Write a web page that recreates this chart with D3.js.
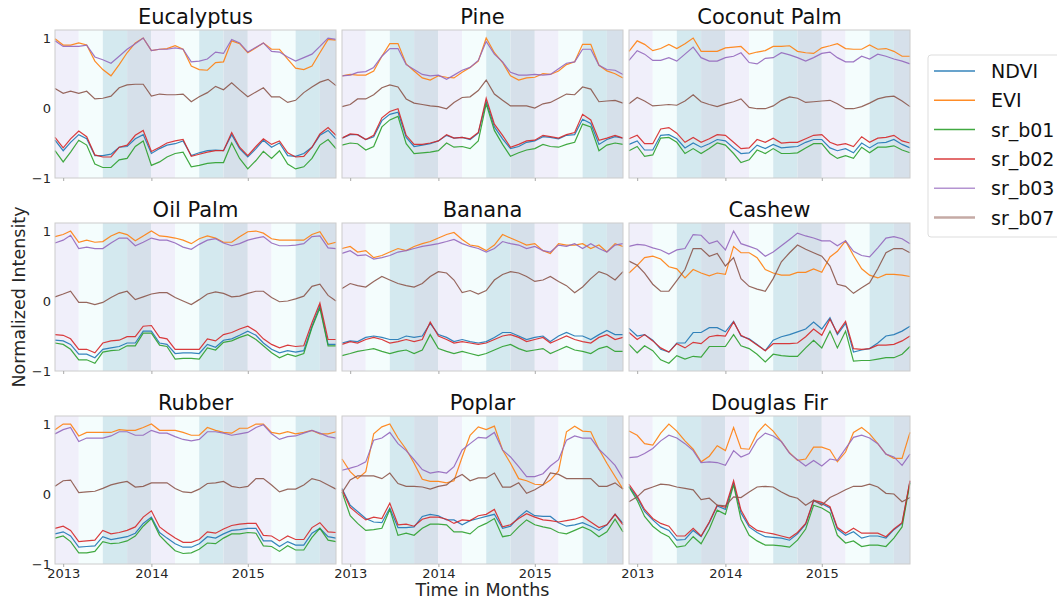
<!DOCTYPE html>
<html>
<head>
<meta charset="utf-8">
<script src="https://cdn.jsdelivr.net/npm/d3@7"></script>
<style>
    body { margin: 0; background: #fff; }
    svg { font-family: "DejaVu Sans", sans-serif; display: block; }
</style>
</head>
<body>
<div id="container"></div>
<script>
// series order in every species array: NDVI, EVI, sr_b01, sr_b02, sr_b03, sr_b07
const seriesNames = ["NDVI", "EVI", "sr_b01", "sr_b02", "sr_b03", "sr_b07"];
const speciesNames = ["Eucalyptus", "Pine", "Coconut Palm", "Oil Palm", "Banana", "Cashew", "Rubber", "Poplar", "Douglas Fir"];
const yTicks = [-1, 0, 1];
const xTickDates = ["2013-02-01", "2014-01-01", "2015-01-01"];
const firstMonth = "2013-01-01";
const lastMonth = "2015-12-01";

const eucalyptus = [
    [-0.46,-0.61,-0.49,-0.38,-0.44,-0.68,-0.68,-0.66,-0.56,-0.55,-0.44,-0.38,-0.65,-0.58,-0.53,-0.51,-0.47,-0.68,-0.64,-0.61,-0.60,-0.61,-0.38,-0.58,-0.70,-0.58,-0.46,-0.56,-0.50,-0.68,-0.69,-0.65,-0.56,-0.39,-0.32,-0.44],
    [0.99,0.90,0.90,0.93,0.90,0.67,0.55,0.46,0.62,0.79,0.93,1.00,0.82,0.84,0.85,0.89,0.84,0.60,0.55,0.54,0.65,0.66,0.96,0.92,0.79,0.86,0.93,0.84,0.84,0.70,0.57,0.55,0.60,0.79,0.98,0.97],
    [-0.61,-0.77,-0.63,-0.46,-0.53,-0.80,-0.85,-0.85,-0.74,-0.72,-0.55,-0.47,-0.82,-0.77,-0.70,-0.65,-0.63,-0.84,-0.82,-0.79,-0.78,-0.78,-0.50,-0.72,-0.87,-0.75,-0.62,-0.72,-0.61,-0.80,-0.87,-0.84,-0.72,-0.53,-0.45,-0.58],
    [-0.42,-0.57,-0.44,-0.33,-0.41,-0.67,-0.70,-0.70,-0.56,-0.53,-0.39,-0.32,-0.62,-0.56,-0.50,-0.47,-0.45,-0.69,-0.66,-0.63,-0.61,-0.61,-0.35,-0.56,-0.68,-0.55,-0.44,-0.52,-0.47,-0.64,-0.70,-0.69,-0.56,-0.37,-0.28,-0.39],
    [0.96,0.88,0.88,0.88,0.90,0.73,0.69,0.64,0.74,0.84,0.92,1.00,0.82,0.84,0.84,0.86,0.84,0.66,0.67,0.70,0.80,0.78,0.98,0.93,0.80,0.87,0.93,0.81,0.80,0.73,0.67,0.72,0.77,0.88,1.00,0.98],
    [0.28,0.21,0.24,0.21,0.24,0.13,0.14,0.17,0.29,0.33,0.34,0.34,0.17,0.20,0.19,0.19,0.20,0.09,0.16,0.22,0.31,0.26,0.36,0.26,0.16,0.23,0.29,0.16,0.16,0.08,0.11,0.22,0.30,0.37,0.41,0.32]
];
const pine = [
    [-0.43,-0.38,-0.38,-0.45,-0.41,-0.18,-0.09,-0.06,-0.42,-0.55,-0.53,-0.51,-0.47,-0.39,-0.43,-0.42,-0.45,-0.36,0.09,-0.27,-0.44,-0.58,-0.55,-0.49,-0.47,-0.41,-0.42,-0.44,-0.39,-0.38,-0.16,-0.22,-0.52,-0.45,-0.41,-0.43],
    [0.46,0.48,0.47,0.47,0.53,0.74,0.92,0.92,0.63,0.53,0.43,0.40,0.46,0.44,0.43,0.51,0.58,0.67,1.00,0.79,0.65,0.46,0.40,0.43,0.44,0.49,0.48,0.53,0.62,0.66,0.91,0.91,0.61,0.53,0.49,0.43],
    [-0.53,-0.50,-0.51,-0.60,-0.55,-0.27,-0.17,-0.12,-0.51,-0.65,-0.64,-0.63,-0.61,-0.50,-0.56,-0.55,-0.58,-0.47,0.06,-0.32,-0.52,-0.69,-0.64,-0.60,-0.58,-0.52,-0.55,-0.56,-0.52,-0.49,-0.23,-0.27,-0.61,-0.53,-0.50,-0.52],
    [-0.43,-0.37,-0.38,-0.45,-0.39,-0.14,-0.05,-0.01,-0.39,-0.52,-0.52,-0.50,-0.47,-0.38,-0.43,-0.42,-0.44,-0.35,0.14,-0.23,-0.39,-0.56,-0.52,-0.47,-0.46,-0.39,-0.41,-0.43,-0.38,-0.35,-0.09,-0.17,-0.46,-0.43,-0.39,-0.43],
    [0.46,0.47,0.51,0.52,0.58,0.74,0.85,0.85,0.62,0.55,0.48,0.46,0.47,0.41,0.47,0.54,0.58,0.68,0.95,0.77,0.66,0.51,0.47,0.47,0.48,0.47,0.48,0.56,0.64,0.66,0.84,0.84,0.61,0.55,0.54,0.48],
    [0.02,0.05,0.13,0.13,0.19,0.29,0.33,0.30,0.13,0.07,0.05,0.03,0.02,-0.01,0.08,0.15,0.16,0.25,0.40,0.20,0.11,0.03,0.03,0.03,0.00,0.06,0.08,0.14,0.20,0.19,0.30,0.27,0.09,0.10,0.11,0.07]
];
const coconutPalm = [
    [-0.52,-0.47,-0.60,-0.60,-0.39,-0.38,-0.44,-0.57,-0.50,-0.56,-0.51,-0.45,-0.47,-0.57,-0.65,-0.64,-0.53,-0.58,-0.52,-0.57,-0.56,-0.55,-0.49,-0.45,-0.45,-0.57,-0.61,-0.58,-0.64,-0.50,-0.57,-0.50,-0.49,-0.45,-0.52,-0.57],
    [0.81,0.96,0.91,0.82,0.85,0.91,0.85,0.92,1.00,0.81,0.81,0.81,0.86,0.87,0.88,0.77,0.80,0.82,0.88,0.88,0.89,0.81,0.79,0.78,0.86,0.89,0.92,0.85,0.84,0.84,0.90,0.84,0.85,0.81,0.74,0.74],
    [-0.61,-0.55,-0.69,-0.67,-0.43,-0.42,-0.49,-0.65,-0.58,-0.65,-0.58,-0.50,-0.53,-0.65,-0.78,-0.74,-0.60,-0.65,-0.58,-0.65,-0.65,-0.64,-0.57,-0.51,-0.51,-0.65,-0.72,-0.68,-0.72,-0.56,-0.64,-0.56,-0.56,-0.54,-0.60,-0.64],
    [-0.44,-0.39,-0.51,-0.51,-0.30,-0.28,-0.36,-0.49,-0.42,-0.49,-0.44,-0.38,-0.39,-0.49,-0.58,-0.57,-0.45,-0.49,-0.43,-0.50,-0.49,-0.49,-0.44,-0.39,-0.38,-0.49,-0.53,-0.51,-0.55,-0.41,-0.49,-0.43,-0.42,-0.39,-0.47,-0.50],
    [0.68,0.82,0.77,0.68,0.68,0.72,0.67,0.77,0.87,0.72,0.67,0.67,0.72,0.74,0.79,0.65,0.63,0.71,0.72,0.79,0.76,0.72,0.67,0.72,0.78,0.80,0.72,0.66,0.66,0.74,0.70,0.77,0.74,0.70,0.67,0.63],
    [0.06,0.15,0.10,0.03,0.04,0.05,0.04,0.10,0.19,0.09,0.05,0.02,0.06,0.09,0.13,0.01,-0.01,-0.01,0.03,0.11,0.16,0.14,0.08,0.09,0.10,0.11,0.06,-0.01,-0.01,0.02,0.07,0.13,0.16,0.17,0.10,0.02]
];
const oilPalm = [
    [-0.56,-0.57,-0.62,-0.76,-0.76,-0.81,-0.69,-0.67,-0.65,-0.60,-0.60,-0.43,-0.43,-0.60,-0.62,-0.75,-0.74,-0.74,-0.75,-0.62,-0.66,-0.56,-0.54,-0.49,-0.43,-0.49,-0.60,-0.69,-0.74,-0.71,-0.73,-0.71,-0.36,-0.07,-0.62,-0.62],
    [0.92,0.95,1.00,0.84,0.87,0.84,0.85,0.93,0.98,0.95,0.86,0.93,1.00,0.93,0.92,0.90,0.87,0.82,0.89,0.93,0.90,0.84,0.84,0.92,0.99,1.00,0.97,0.89,0.87,0.87,0.87,0.87,0.95,0.99,0.81,0.84],
    [-0.60,-0.62,-0.69,-0.84,-0.84,-0.89,-0.73,-0.71,-0.70,-0.64,-0.64,-0.46,-0.46,-0.63,-0.65,-0.83,-0.82,-0.82,-0.83,-0.67,-0.70,-0.59,-0.57,-0.52,-0.48,-0.55,-0.64,-0.74,-0.81,-0.76,-0.79,-0.75,-0.38,-0.10,-0.64,-0.64],
    [-0.48,-0.49,-0.54,-0.69,-0.69,-0.74,-0.60,-0.57,-0.56,-0.51,-0.51,-0.36,-0.35,-0.52,-0.54,-0.69,-0.69,-0.69,-0.69,-0.54,-0.57,-0.48,-0.45,-0.40,-0.36,-0.43,-0.54,-0.62,-0.67,-0.63,-0.65,-0.64,-0.31,-0.03,-0.55,-0.55],
    [0.83,0.87,0.94,0.75,0.77,0.75,0.75,0.83,0.90,0.90,0.79,0.84,0.90,0.87,0.87,0.83,0.77,0.74,0.81,0.87,0.89,0.83,0.79,0.82,0.87,0.90,0.92,0.83,0.79,0.79,0.80,0.82,0.92,0.93,0.76,0.75],
    [0.06,0.10,0.14,-0.02,-0.02,-0.05,-0.02,0.05,0.11,0.14,0.02,0.06,0.10,0.12,0.12,0.05,0.00,-0.05,0.02,0.10,0.13,0.11,0.06,0.07,0.11,0.14,0.14,0.05,-0.01,0.00,0.03,0.07,0.21,0.24,0.08,0.00]
];
const banana = [
    [-0.60,-0.57,-0.58,-0.52,-0.50,-0.52,-0.55,-0.55,-0.50,-0.52,-0.50,-0.32,-0.48,-0.52,-0.58,-0.55,-0.58,-0.60,-0.58,-0.52,-0.45,-0.45,-0.50,-0.55,-0.52,-0.50,-0.58,-0.50,-0.45,-0.50,-0.50,-0.55,-0.48,-0.42,-0.48,-0.48],
    [0.75,0.78,0.70,0.72,0.62,0.65,0.70,0.75,0.72,0.78,0.82,0.85,0.90,0.95,0.98,0.88,0.80,0.78,0.72,0.80,0.95,0.90,0.85,0.80,0.82,0.72,0.68,0.82,0.80,0.80,0.82,0.75,0.80,0.70,0.82,0.78],
    [-0.78,-0.75,-0.72,-0.70,-0.68,-0.72,-0.75,-0.72,-0.70,-0.75,-0.70,-0.48,-0.68,-0.72,-0.75,-0.72,-0.75,-0.78,-0.75,-0.70,-0.65,-0.62,-0.68,-0.72,-0.70,-0.68,-0.75,-0.70,-0.65,-0.70,-0.72,-0.75,-0.68,-0.65,-0.72,-0.72],
    [-0.62,-0.58,-0.60,-0.55,-0.52,-0.55,-0.60,-0.58,-0.55,-0.58,-0.55,-0.30,-0.50,-0.55,-0.60,-0.58,-0.60,-0.62,-0.60,-0.55,-0.50,-0.48,-0.52,-0.58,-0.55,-0.52,-0.60,-0.55,-0.50,-0.55,-0.58,-0.60,-0.52,-0.48,-0.55,-0.52],
    [0.68,0.72,0.65,0.66,0.60,0.62,0.65,0.70,0.72,0.75,0.78,0.80,0.82,0.85,0.88,0.82,0.78,0.75,0.70,0.75,0.85,0.82,0.80,0.75,0.78,0.72,0.70,0.80,0.78,0.82,0.75,0.82,0.75,0.70,0.80,0.82],
    [0.18,0.25,0.22,0.20,0.28,0.35,0.30,0.25,0.22,0.20,0.25,0.35,0.42,0.40,0.30,0.12,0.15,0.10,0.15,0.30,0.38,0.42,0.40,0.35,0.28,0.30,0.35,0.28,0.22,0.12,0.20,0.32,0.42,0.38,0.30,0.42]
];
const cashew = [
    [-0.39,-0.50,-0.48,-0.56,-0.69,-0.73,-0.60,-0.60,-0.45,-0.45,-0.38,-0.38,-0.44,-0.29,-0.50,-0.54,-0.62,-0.71,-0.56,-0.51,-0.48,-0.44,-0.40,-0.30,-0.40,-0.24,-0.48,-0.32,-0.73,-0.70,-0.68,-0.60,-0.50,-0.48,-0.43,-0.36],
    [0.40,0.51,0.62,0.64,0.60,0.49,0.46,0.33,0.45,0.40,0.36,0.40,0.38,0.78,0.69,0.69,0.62,0.45,0.40,0.37,0.37,0.41,0.41,0.46,0.41,0.63,0.71,0.86,0.65,0.46,0.37,0.33,0.38,0.38,0.37,0.35],
    [-0.62,-0.74,-0.64,-0.71,-0.84,-0.89,-0.78,-0.83,-0.79,-0.80,-0.65,-0.65,-0.65,-0.48,-0.64,-0.68,-0.76,-0.87,-0.76,-0.78,-0.79,-0.79,-0.67,-0.56,-0.67,-0.43,-0.67,-0.43,-0.86,-0.85,-0.85,-0.83,-0.81,-0.81,-0.76,-0.65],
    [-0.45,-0.55,-0.48,-0.57,-0.67,-0.73,-0.61,-0.67,-0.59,-0.61,-0.51,-0.49,-0.50,-0.30,-0.49,-0.55,-0.63,-0.71,-0.61,-0.61,-0.61,-0.60,-0.51,-0.40,-0.49,-0.26,-0.46,-0.29,-0.68,-0.69,-0.68,-0.63,-0.63,-0.62,-0.57,-0.50],
    [0.78,0.81,0.80,0.76,0.73,0.67,0.73,0.75,0.95,0.94,0.82,0.86,0.73,1.00,0.82,0.78,0.74,0.64,0.70,0.79,0.88,0.97,0.93,0.90,0.86,0.86,0.79,0.86,0.71,0.65,0.63,0.76,0.90,0.92,0.89,0.82],
    [0.57,0.51,0.40,0.24,0.14,0.14,0.29,0.45,0.75,0.75,0.64,0.68,0.50,0.62,0.32,0.21,0.17,0.14,0.32,0.56,0.69,0.80,0.74,0.69,0.64,0.50,0.24,0.21,0.11,0.19,0.26,0.46,0.69,0.75,0.75,0.69]
];
const rubber = [
    [-0.57,-0.54,-0.60,-0.76,-0.75,-0.74,-0.61,-0.65,-0.63,-0.61,-0.56,-0.42,-0.33,-0.55,-0.63,-0.71,-0.76,-0.76,-0.71,-0.61,-0.63,-0.57,-0.52,-0.51,-0.49,-0.49,-0.67,-0.67,-0.75,-0.68,-0.73,-0.73,-0.56,-0.49,-0.61,-0.63],
    [0.92,1.00,1.00,0.83,0.88,0.88,0.88,0.88,0.92,0.91,0.91,0.95,1.00,0.91,0.91,0.91,0.88,0.84,0.84,0.95,0.91,0.88,0.87,0.94,0.94,1.00,1.00,0.88,0.86,0.89,0.86,0.88,0.91,0.86,0.86,0.89],
    [-0.63,-0.60,-0.68,-0.84,-0.84,-0.82,-0.68,-0.71,-0.70,-0.67,-0.60,-0.46,-0.35,-0.59,-0.70,-0.81,-0.85,-0.84,-0.79,-0.70,-0.71,-0.63,-0.57,-0.57,-0.55,-0.56,-0.74,-0.75,-0.82,-0.74,-0.80,-0.80,-0.62,-0.49,-0.66,-0.68],
    [-0.49,-0.46,-0.52,-0.68,-0.67,-0.66,-0.52,-0.57,-0.55,-0.52,-0.47,-0.33,-0.24,-0.47,-0.55,-0.63,-0.69,-0.69,-0.65,-0.54,-0.56,-0.50,-0.45,-0.43,-0.42,-0.42,-0.59,-0.60,-0.67,-0.60,-0.65,-0.65,-0.48,-0.41,-0.54,-0.55],
    [0.86,0.92,0.95,0.75,0.80,0.80,0.80,0.83,0.89,0.89,0.84,0.84,0.91,0.87,0.87,0.82,0.78,0.76,0.78,0.89,0.89,0.87,0.84,0.86,0.88,0.95,0.99,0.86,0.78,0.82,0.83,0.87,0.91,0.87,0.82,0.80],
    [0.11,0.19,0.20,0.02,0.03,0.04,0.08,0.13,0.16,0.18,0.10,0.11,0.16,0.16,0.16,0.08,0.03,0.02,0.07,0.15,0.16,0.18,0.11,0.09,0.11,0.22,0.22,0.13,0.03,0.07,0.07,0.13,0.22,0.19,0.13,0.07]
];
const poplar = [
    [0.08,-0.16,-0.25,-0.35,-0.40,-0.41,-0.20,-0.48,-0.48,-0.47,-0.32,-0.29,-0.31,-0.37,-0.37,-0.44,-0.38,-0.35,-0.32,-0.29,-0.49,-0.46,-0.33,-0.24,-0.31,-0.32,-0.32,-0.41,-0.46,-0.44,-0.41,-0.46,-0.52,-0.44,-0.29,-0.42],
    [0.50,0.32,0.22,0.32,0.86,0.96,1.00,0.80,0.64,0.44,0.21,0.18,0.18,0.16,0.19,0.53,0.84,0.96,0.92,0.97,0.63,0.44,0.22,0.19,0.14,0.13,0.20,0.33,0.89,0.97,0.90,0.89,0.64,0.44,0.25,0.07],
    [0.03,-0.31,-0.42,-0.52,-0.51,-0.49,-0.22,-0.59,-0.56,-0.59,-0.49,-0.43,-0.43,-0.44,-0.54,-0.54,-0.57,-0.47,-0.42,-0.35,-0.61,-0.59,-0.47,-0.37,-0.44,-0.47,-0.49,-0.55,-0.57,-0.52,-0.47,-0.52,-0.61,-0.54,-0.36,-0.54],
    [0.06,-0.19,-0.28,-0.37,-0.33,-0.35,-0.13,-0.44,-0.43,-0.46,-0.36,-0.33,-0.33,-0.36,-0.42,-0.37,-0.38,-0.31,-0.29,-0.22,-0.47,-0.44,-0.35,-0.28,-0.33,-0.37,-0.38,-0.40,-0.38,-0.36,-0.32,-0.40,-0.48,-0.44,-0.29,-0.44],
    [0.34,0.37,0.40,0.46,0.77,0.80,0.88,0.72,0.62,0.49,0.35,0.30,0.32,0.30,0.39,0.63,0.72,0.81,0.80,0.88,0.63,0.53,0.39,0.25,0.25,0.29,0.40,0.49,0.77,0.83,0.80,0.80,0.64,0.53,0.41,0.22],
    [0.02,0.20,0.26,0.26,0.26,0.22,0.30,0.15,0.11,0.11,0.10,0.07,0.11,0.13,0.22,0.28,0.19,0.23,0.23,0.30,0.10,0.10,0.16,0.01,0.06,0.13,0.30,0.28,0.22,0.22,0.22,0.22,0.11,0.11,0.16,0.07]
];
const douglasFir = [
    [0.11,-0.05,-0.25,-0.37,-0.47,-0.52,-0.66,-0.65,-0.52,-0.61,-0.41,-0.17,-0.22,0.15,-0.27,-0.47,-0.55,-0.61,-0.62,-0.63,-0.66,-0.57,-0.43,-0.10,-0.14,-0.20,-0.50,-0.59,-0.54,-0.63,-0.60,-0.60,-0.63,-0.51,-0.42,0.18],
    [0.90,0.84,0.72,0.70,0.87,1.00,0.90,0.76,0.64,0.46,0.54,0.69,0.62,0.95,0.65,0.64,0.87,1.00,0.90,0.75,0.59,0.48,0.50,0.67,0.67,0.63,0.46,0.60,0.88,0.95,0.86,0.72,0.57,0.51,0.51,0.88],
    [0.10,-0.09,-0.32,-0.46,-0.55,-0.61,-0.76,-0.74,-0.61,-0.71,-0.50,-0.23,-0.29,0.13,-0.36,-0.59,-0.67,-0.73,-0.73,-0.74,-0.76,-0.66,-0.50,-0.16,-0.20,-0.27,-0.59,-0.70,-0.67,-0.75,-0.73,-0.73,-0.75,-0.63,-0.47,0.16],
    [0.14,-0.03,-0.22,-0.35,-0.42,-0.46,-0.60,-0.60,-0.49,-0.60,-0.40,-0.16,-0.19,0.19,-0.23,-0.44,-0.52,-0.55,-0.57,-0.60,-0.63,-0.55,-0.42,-0.09,-0.12,-0.18,-0.48,-0.56,-0.49,-0.56,-0.56,-0.56,-0.61,-0.50,-0.41,0.19],
    [0.52,0.53,0.58,0.65,0.76,0.84,0.80,0.72,0.62,0.45,0.46,0.45,0.41,0.62,0.53,0.58,0.77,0.87,0.83,0.75,0.58,0.49,0.40,0.48,0.40,0.50,0.48,0.65,0.81,0.84,0.80,0.72,0.57,0.53,0.41,0.57],
    [-0.11,-0.04,0.06,0.10,0.14,0.13,0.10,0.08,0.06,-0.08,-0.06,-0.16,-0.17,-0.04,-0.05,0.03,0.10,0.11,0.10,0.03,-0.03,-0.06,-0.16,-0.09,-0.16,-0.05,0.00,0.06,0.11,0.11,0.14,0.10,0.01,0.00,-0.11,-0.05]
];

document.addEventListener("DOMContentLoaded", () => {

    const speciesData = [eucalyptus, pine, coconutPalm, oilPalm, banana, cashew, rubber, poplar, douglasFir];
    const lineColors = ["#1f77b4", "#ff7f0e", "#2ca02c", "#d62728", "#9467bd", "#8c564b"];
    // Jan-Mar, Apr-Jun, Jul-Sep, Oct-Dec
    const seasonColors = ["#f0effa", "#f4fdfd", "#d4e9ef", "#d6e0ea"];

    const w = 1057;
    const h = 601;
    const panelW = 281;
    const panelH = 148;
    const colStep = 287;
    const rowStep = 193;
    const left0 = 55;
    const top0 = 30;

    const parse = d3.timeParse("%Y-%m-%d");
    const start = parse(firstMonth);
    const end = parse(lastMonth);
    const months = d3.timeMonth.range(start, d3.timeMonth.offset(end, 1));
    const quarters = d3.timeMonth.every(3).range(start, d3.timeMonth.offset(end, 1));

    const x = d3.scaleTime().domain([start, end]).range([0, panelW]).clamp(true);
    const y = d3.scaleLinear().domain([-1, 1.115]).range([panelH, 0]);

    const line = d3.line()
        .x((d, i) => x(months[i]))
        .y((d) => y(d));

    const svg = d3.select("#container")
        .append("svg")
        .attr("width", w)
        .attr("height", h);

    speciesData.forEach((series, k) => {
        const col = k % 3;
        const row = Math.floor(k / 3);
        const g = svg.append("g")
            .attr("transform", `translate(${left0 + col * colStep},${top0 + row * rowStep})`);

        // season shading
        g.selectAll(".band")
            .data(quarters)
            .enter().append("rect")
            .attr("class", "band")
            .attr("x", (d) => x(d))
            .attr("y", 0)
            .attr("width", (d) => x(d3.timeMonth.offset(d, 3)) - x(d))
            .attr("height", panelH)
            .attr("fill", (d) => seasonColors[d.getMonth() / 3]);

        g.selectAll(".series")
            .data(series)
            .enter().append("path")
            .attr("class", "series")
            .attr("d", (d) => line(d))
            .attr("fill", "none")
            .attr("stroke", (d, i) => lineColors[i])
            .attr("stroke-width", 1.2)
            .attr("stroke-opacity", 0.9);

        g.append("rect")
            .attr("width", panelW)
            .attr("height", panelH)
            .attr("fill", "none")
            .attr("stroke", "#cccccc")
            .attr("stroke-width", 1);

        const xAxis = d3.axisBottom(x)
            .tickValues(xTickDates.map(parse))
            .tickSize(3)
            .tickPadding(2)
            .tickFormat(row == 2 ? d3.timeFormat("%Y") : () => "");
        const xg = g.append("g")
            .attr("transform", `translate(0,${panelH})`)
            .call(xAxis);
        xg.select(".domain").remove();
        xg.selectAll("line").attr("stroke", "#aaaaaa");
        xg.selectAll("text").attr("fill", "#262626").style("font-size", "13px").style("font-family", "DejaVu Sans");

        if(col == 0) {
            const yg = g.append("g")
                .call(d3.axisLeft(y).tickValues(yTicks).tickSize(0).tickPadding(4).tickFormat(d3.format("d")));
            yg.select(".domain").remove();
            yg.selectAll("text").attr("fill", "#262626").style("font-size", "13px").style("font-family", "DejaVu Sans");
        }

        g.append("text")
            .attr("x", panelW / 2)
            .attr("y", -6)
            .attr("text-anchor", "middle")
            .style("font-size", "21px")
            .attr("fill", "#111")
            .text(speciesNames[k]);
    });

    svg.append("text")
        .attr("transform", `translate(25,${top0 + rowStep + panelH / 2}) rotate(-90)`)
        .attr("text-anchor", "middle")
        .style("font-size", "17.5px")
        .attr("fill", "#262626")
        .text("Normalized Intensity");

    svg.append("text")
        .attr("x", left0 + (2 * colStep + panelW) / 2)
        .attr("y", 596)
        .attr("text-anchor", "middle")
        .style("font-size", "17.5px")
        .attr("fill", "#262626")
        .text("Time in Months");

    // legend
    const legend = svg.append("g").attr("transform", "translate(928,55)");
    legend.append("rect")
        .attr("width", 140)
        .attr("height", 182)
        .attr("rx", 3)
        .attr("fill", "#fff")
        .attr("stroke", "#dddddd");

    const items = legend.selectAll(".item")
        .data(seriesNames)
        .enter().append("g")
        .attr("class", "item")
        .attr("transform", (d, i) => `translate(0,${16 + i * 29.3})`);
    items.append("line")
        .attr("x1", 6)
        .attr("x2", 47)
        .attr("stroke", (d, i) => lineColors[i])
        .attr("stroke-width", (d, i) => i == 5 ? 2.5 : 1.5)
        .attr("stroke-opacity", (d, i) => i == 5 ? 0.5 : (i == 4 ? 0.7 : 0.9));
    items.append("text")
        .attr("x", 63)
        .attr("y", 7)
        .style("font-size", "19px")
        .attr("fill", "#111")
        .text((d) => d);
});
</script>
</body>
</html>
